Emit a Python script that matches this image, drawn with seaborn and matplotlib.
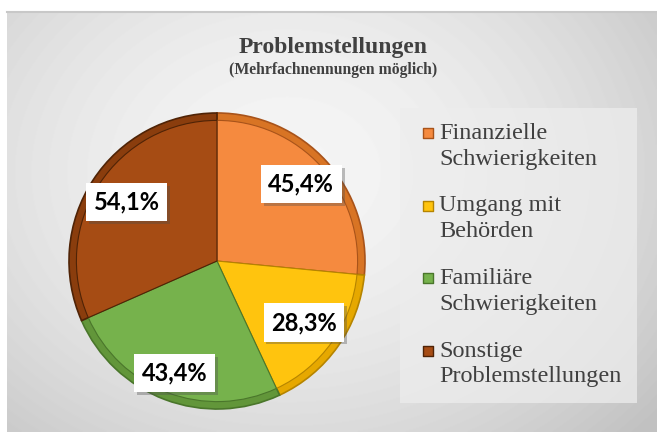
import numpy as np
import seaborn as sns
import matplotlib.pyplot as plt
import matplotlib.patheffects as pe

# -----------------------------
# Data
categories = ["Finanzielle\nSchwierigkeiten", "Umgang mit\nBehörden",
              "Familiäre\nSchwierigkeiten", "Sonstige\nProblemstellungen"]
values = [45.4, 28.3, 43.4, 54.1]
colors = ["#F58A3F", "#FFC40E", "#76B24C", "#A64C14"]
rim_colors = ["#D87424", "#E6A800", "#62963A", "#8A3D0D"]
edge_colors = ["#A8531A", "#B58400", "#4A762B", "#4F2306"]

# label distance from the centre (fraction of radius)
label_r = [0.77, 0.72, 0.81, 0.73]

# -----------------------------
# Style
sns.set_style("white")
plt.rcParams["font.family"] = ["Liberation Serif", "DejaVu Serif"]

W, H = 657, 432
fig = plt.figure(figsize=(W / 100, H / 100), dpi=100)
fig.patch.set_facecolor("white")


def rect(x, y, w, h):
    return [x / W, 1 - (y + h) / H, w / W, h / H]


# -----------------------------
# Background gradient
bg = fig.add_axes(rect(7, 12, 650, 420))
yy, xx = np.mgrid[0:420, 0:650]
dist = np.hypot((xx - 280) / 1.25, yy - 160)
shade = 0.96 - 0.2 * np.clip(dist / 380, 0, 1) ** 1.8
bg.imshow(shade, cmap="gray", vmin=0, vmax=1, aspect="auto")
bg.set_xticks([])
bg.set_yticks([])
for s in ["left", "right", "bottom"]:
    bg.spines[s].set_visible(False)
bg.spines["top"].set_color("#C8C8C8")
bg.spines["top"].set_linewidth(1.5)

# -----------------------------
# Title
fig.text(333 / W, 1 - 47 / H, "Problemstellungen", ha="center", va="center",
         fontsize=17, fontweight="bold", color="#404040")
fig.text(333 / W, 1 - 70 / H, "(Mehrfachnennungen möglich)", ha="center", va="center",
         fontsize=11.3, fontweight="bold", color="#404040")

# -----------------------------
# Pie with a simple bevel: darker rim below, main colour on top
ax = fig.add_axes(rect(217 - 148, 261 - 148, 296, 296))
ax.patch.set_alpha(0)
wedges, _ = ax.pie(values, colors=rim_colors, startangle=90, counterclock=False,
                   wedgeprops=dict(linewidth=1.2))
for w, ec in zip(wedges, edge_colors):
    w.set_edgecolor(ec)
inner, _ = ax.pie(values, colors=colors, startangle=90, counterclock=False,
                  radius=0.95, wedgeprops=dict(linewidth=0.8))
for w, ec in zip(inner, edge_colors):
    w.set_edgecolor(ec)
ax.set_xlim(-1, 1)
ax.set_ylim(-1, 1)

for w, v, r in zip(wedges, values, label_r):
    mid = np.deg2rad((w.theta1 + w.theta2) / 2)
    txt = ax.text(r * np.cos(mid), r * np.sin(mid), f"{v:.1f}%".replace(".", ","),
                  ha="center", va="center", fontsize=17, fontweight="bold",
                  family=["Lato", "DejaVu Sans"], color="black",
                  bbox=dict(boxstyle="square,pad=0.32", fc="white", ec="none"))
    txt.get_bbox_patch().set_path_effects(
        [pe.SimplePatchShadow(offset=(2, -2), alpha=0.35), pe.Normal()])

# -----------------------------
# Legend box
lg = fig.add_axes(rect(400, 108, 237, 295))
lg.set_facecolor((0.93, 0.93, 0.93, 0.75))
lg.set_xlim(0, 237)
lg.set_ylim(295, 0)
lg.set_xticks([])
lg.set_yticks([])
for s in lg.spines.values():
    s.set_visible(False)

for i, (lab, col, ec) in enumerate(zip(categories, colors, edge_colors)):
    yc = 25 + i * 72.5
    lg.scatter(28, yc, marker="s", s=50, c=col, edgecolors=ec, linewidths=1)
    lg.text(39, yc - 10, lab, ha="left", va="top", fontsize=17.5,
            color="#404040", linespacing=1.3)

plt.savefig("out.png", dpi=100)
